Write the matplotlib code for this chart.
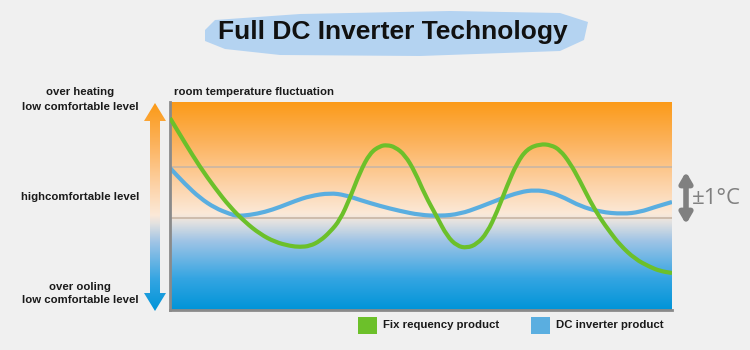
import numpy as np
import matplotlib
matplotlib.use('Agg')
import matplotlib.pyplot as plt
from matplotlib.colors import LinearSegmentedColormap
from matplotlib.patches import Polygon, FancyArrowPatch, PathPatch
from matplotlib.path import Path

plt.rcParams['font.family'] = ['Liberation Sans', 'DejaVu Sans']

# data: height above the bottom of the box (px of the original picture)
fix_x = [170, 185, 200, 215, 230, 245, 260, 275, 290, 300, 310, 320, 330, 340, 350, 360, 370,
         380, 387, 395, 405, 415, 425, 437, 447, 457, 467, 477, 487, 497, 507, 517, 527, 540,
         551, 560, 570, 580, 590, 600, 610, 620, 635, 650, 660, 672]
fix_y = [118, 143, 167, 188, 207, 222, 234, 242, 246, 247, 246, 241, 232, 220, 198, 172, 153,
         146, 145, 147, 155, 172, 195, 217, 236, 246, 248, 244, 233, 212, 186, 163, 149, 144,
         145, 150, 163, 181, 201, 218, 232, 245, 259, 267, 271, 273]
dc_x = [170, 185, 200, 215, 230, 237, 250, 265, 280, 295, 310, 330, 345, 360, 380, 400, 420,
        440, 460, 480, 500, 520, 535, 550, 565, 580, 600, 623, 640, 655, 672]
dc_y = [168, 184, 198, 208, 214, 216, 215, 212, 207, 201, 196, 193, 195, 200, 206, 211, 215,
        216, 214, 207, 199, 192, 190, 192, 198, 206, 212, 214, 212, 207, 202]
levels = [167, 218]

bottom = 310
fix_v = [bottom - v for v in fix_y]
dc_v = [bottom - v for v in dc_y]
lev_v = [bottom - v for v in levels]


def smooth_line(ax, xs, ys, **kw):
    # quadratic bezier through the midpoints, read points as control points
    pts = list(zip(xs, ys))
    verts = [pts[0]]
    codes = [Path.MOVETO]
    mid = lambda a, b: ((a[0] + b[0]) / 2, (a[1] + b[1]) / 2)
    verts.append(mid(pts[0], pts[1]))
    codes.append(Path.LINETO)
    for i in range(1, len(pts) - 1):
        verts += [pts[i], mid(pts[i], pts[i + 1])]
        codes += [Path.CURVE3, Path.CURVE3]
    verts.append(pts[-1])
    codes.append(Path.LINETO)
    ax.add_patch(PathPatch(Path(verts, codes), facecolor='none', capstyle='butt',
                           joinstyle='round', **kw))


bg = '#f0f0f0'
fig = plt.figure(figsize=(7.5, 3.5), dpi=100, facecolor=bg)

# background cmap: blue (bottom) -> pale -> orange (top)
cm = LinearSegmentedColormap.from_list('temp', [
    (0.0, '#0094d8'), (0.15, '#34a5e2'), (0.33, '#9fc4e6'), (0.42, '#e2e1e0'),
    (0.46, '#fbe9d8'), (0.6, '#fdd3a8'), (0.8, '#fcb35e'), (1.0, '#fb9a17')])

ax = fig.add_axes([170 / 750, 40 / 350, 502 / 750, 208 / 350])
grad = np.linspace(0, 1, 256).reshape(-1, 1)
ax.imshow(grad, cmap=cm, aspect='auto', origin='lower', extent=[170, 672, 0, 208], zorder=0)
for v in lev_v:
    ax.axhline(v, color='#c9b6a4', lw=1.2, zorder=1)
smooth_line(ax, dc_x, dc_v, edgecolor='#5aaee0', lw=3, zorder=2)
smooth_line(ax, fix_x, fix_v, edgecolor='#6cc02a', lw=3, zorder=3)
ax.set_xlim(170, 672)
ax.set_ylim(0, 208)
ax.set_xticks([])
ax.set_yticks([])
for s in ['top', 'right']:
    ax.spines[s].set_visible(False)
for s in ['left', 'bottom']:
    ax.spines[s].set_color('#8a8a8a')
    ax.spines[s].set_linewidth(2)

# overlay axes in pixel coords for decorations
ov = fig.add_axes([0, 0, 1, 1], facecolor='none')
ov.set_xlim(0, 750)
ov.set_ylim(350, 0)
ov.axis('off')

# title brush stroke
brush = Polygon([(205, 30), (215, 20), (300, 14), (450, 11), (560, 13), (588, 22), (584, 40),
                 (560, 51), (420, 56), (280, 55), (225, 49), (205, 41)],
                closed=True, facecolor='#aed0f2', edgecolor='none', alpha=0.9)
ov.add_patch(brush)
ov.text(393, 32, 'Full DC Inverter Technology', fontsize=19, fontweight='bold',
        ha='center', va='center', color='#111111')

# left gradient double arrow
arrow = Polygon([(155, 103), (166, 121), (160, 121), (160, 293), (166, 293), (155, 311),
                 (144, 293), (150, 293), (150, 121), (144, 121)], closed=True,
                facecolor='none', edgecolor='none')
ov.add_patch(arrow)
im = ov.imshow(grad[::-1], cmap=cm, aspect='auto', extent=[140, 170, 311, 103], zorder=2)
im.set_clip_path(arrow)

tkw = dict(fontsize=8.2, fontweight='bold', color='#1a1a1a', ha='center', va='center')
ov.text(80, 92, 'over heating', **tkw)
ov.text(80, 107, 'low comfortable level', **tkw)
ov.text(80, 197, 'highcomfortable level', **tkw)
ov.text(80, 287, 'over ooling', **tkw)
ov.text(80, 300, 'low comfortable level', **tkw)
ov.text(174, 92, 'room temperature fluctuation', fontsize=8.2, fontweight='bold',
        color='#1a1a1a', ha='left', va='center')

# right +-1 C marker
ov.add_patch(FancyArrowPatch((686, 169), (686, 227), arrowstyle='<|-|>,head_length=6,head_width=3.5',
                             color='#808080', lw=4, mutation_scale=1))
ov.text(692, 199, '±1°C', fontsize=16, color='#808080', ha='left', va='center',
        family=['Open Sans', 'DejaVu Sans'])

# legend
ov.add_patch(Polygon([(358, 317), (377, 317), (377, 334), (358, 334)], facecolor='#6cc02a'))
ov.text(383, 325.5, 'Fix requency product', fontsize=8.2, fontweight='bold', color='#1a1a1a',
        va='center', ha='left')
ov.add_patch(Polygon([(531, 317), (550, 317), (550, 334), (531, 334)], facecolor='#5aaee0'))
ov.text(556, 325.5, 'DC inverter product', fontsize=8.2, fontweight='bold', color='#1a1a1a',
        va='center', ha='left')

fig.savefig('out.png', dpi=100, facecolor=bg)
